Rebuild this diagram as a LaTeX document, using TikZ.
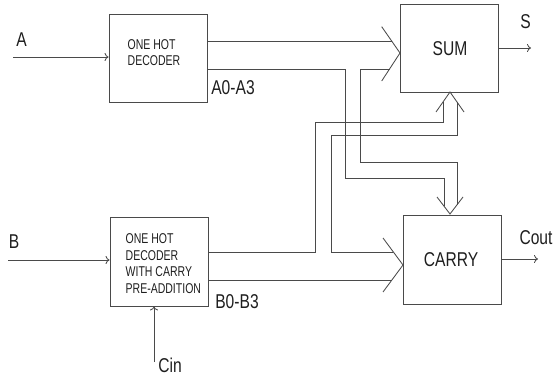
\documentclass[tikz,border=0pt]{standalone}
\usepackage{fontspec}
\setmainfont{Liberation Sans}[FakeStretch=0.78]
\newfontfamily\narrowfont{Liberation Sans}[FakeStretch=0.74]
\usetikzlibrary{arrows.meta}
\definecolor{ln}{HTML}{4A4A4A}
\definecolor{tx}{HTML}{1E1E1E}
\begin{document}
\begin{tikzpicture}[x=1pt,y=-1pt,
  blk/.style={draw=ln, line width=0.85pt, minimum width=98pt, minimum height=88pt, inner sep=0pt},
  wire/.style={draw=ln, line width=0.85pt},
  sig/.style={draw=ln, line width=0.85pt, -{To[length=4pt,width=8pt]}},
  big/.style={text=tx, font=\fontsize{20}{22}\selectfont, inner sep=0pt},
  small/.style={text=tx, font=\narrowfont\fontsize{14.2}{16.5}\selectfont, align=left, inner sep=0pt, anchor=west}]
\useasboundingbox (0,0) rectangle (554,377);
% blocks
\node[blk] (decA) at (158,58) {};
\node[blk] (sum) at (449,48) {};
\node[blk, minimum height=89pt] (decB) at (159,261.5) {};
\node[blk, minimum height=89pt] (carry) at (452,259.5) {};
% block texts
\node[small] (tA) at (127.5,52.5) {ONE HOT\\DECODER};
\node[small] (tB) at (125.5,263.5) {ONE HOT\\DECODER\\WITH CARRY\\PRE-ADDITION};
\node[big] (tS) at (450,49) {SUM};
\node[big] (tC) at (451,260) {CARRY};
% labels
\node[big] (lA) at (21.5,39.5) {A};
\node[big] (lB) at (14,241.5) {B};
\node[big] (lS) at (525.5,22) {S};
\node[big] (lCout) at (536,237.5) {Cout};
\node[big] (lCin) at (170,365) {Cin};
\node[big] (lA03) at (233,88) {A0-A3};
\node[big] (lB03) at (237,302) {B0-B3};
% single-line signals
\coordinate (inA) at (13,57);
\coordinate (inB) at (8,260);
\coordinate (inCin) at (154,362);
\coordinate (outS) at (531,48);
\coordinate (outC) at (538,259);
\draw[sig] (inA) -- (inA -| decA.west);
\draw[sig] (inB) -- (inB -| decB.west);
\draw[sig] (inCin) -- (inCin |- decB.south);
\draw[sig] (outS -| sum.east) -- (outS);
\draw[sig] (outC -| carry.east) -- (outC);
% bus chevrons
\coordinate (sumL) at (400,53);
\coordinate (sumB) at (450,92);
\coordinate (carT) at (450,214);
\coordinate (carL) at (403,265);
\draw[wire] (381.7,26.7) -- (sumL) -- (381.7,81);
\draw[wire] (436,112) -- (sumB) -- (464,112);
\draw[wire] (437,197) -- (carT) -- (463,197);
\draw[wire] (383,238) -- (carL) -- (383,292);
% A bus
\draw[wire] (decA.east |- 0,41) -- (391.6,41);
\draw[wire] (decA.east |- 0,69) -- (345,69) -- (345,178) -- (444,178) -- (444,206.2);
\draw[wire] (389.5,69) -- (360,69) -- (360,162) -- (457,162) -- (457,204.8);
% B bus
\draw[wire] (decB.east |- 0,252) -- (315,252) -- (315,122) -- (443,122) -- (443,102);
\draw[wire] (457,102) -- (457,135) -- (331,135) -- (331,252) -- (393.4,252);
\draw[wire] (decB.east |- 0,280) -- (391.9,280);
\end{tikzpicture}
\end{document}
